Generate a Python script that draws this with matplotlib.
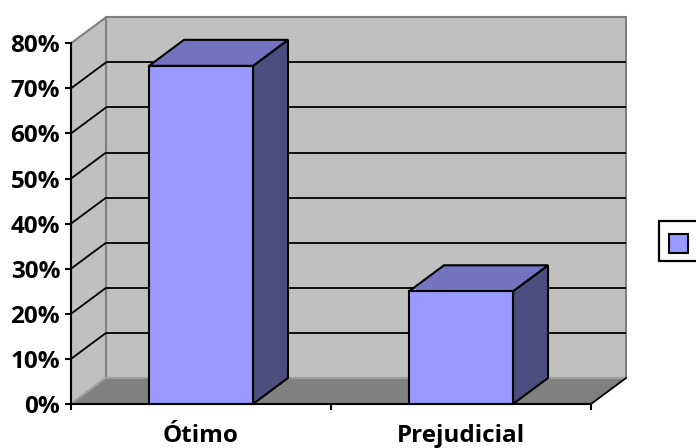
import matplotlib
matplotlib.use("Agg")
import matplotlib.pyplot as plt
import numpy as np
from matplotlib.patches import Polygon, Patch, Rectangle
from matplotlib.legend_handler import HandlerPatch

# Chart data
categories = ["Ótimo", "Prejudicial"]
values = [0.75, 0.25]
y_ticks = [0.0, 0.1, 0.2, 0.3, 0.4, 0.5, 0.6, 0.7, 0.8]
y_tick_labels = ["0%", "10%", "20%", "30%", "40%", "50%", "60%", "70%", "80%"]

# Styling
FONT = "Open Sans"
WALL = "#C0C0C0"
FLOOR = "#808080"
BAR_FRONT = "#9999FF"
BAR_TOP = "#7373BF"
BAR_SIDE = "#4D4D80"
BAR_WIDTH = 0.4
DEPTH_PX = np.array([35.0, 26.0])  # 3-D depth offset in pixels (right, up)

fig = plt.figure(figsize=(6.96, 4.48), dpi=100)
ax = fig.add_axes([71 / 696, 44 / 448, 520 / 696, 360.7 / 448])
ax.set_xlim(-0.5, len(categories) - 0.5)
ax.set_ylim(y_ticks[0], y_ticks[-1])
ax.patch.set_visible(False)


def shift(points):
    """Push data points back by the depth offset."""
    pts = np.atleast_2d(np.asarray(points, dtype=float))
    disp = ax.transData.transform(pts) + DEPTH_PX * fig.dpi / 100
    return ax.transData.inverted().transform(disp)


def poly(points, **kw):
    p = Polygon(np.asarray(points), closed=True, clip_on=False, **kw)
    ax.add_patch(p)
    return p


x0, x1 = ax.get_xlim()
y0, y1 = ax.get_ylim()

# Back wall
bw = np.array([(x0, y0), (x1, y0), (x1, y1), (x0, y1)])
poly(shift(bw), facecolor=WALL, edgecolor="#808080", lw=1.5, zorder=1)

# Left side wall
lw_front = np.array([(x0, y0), (x0, y1)])
poly(np.vstack([lw_front, shift(lw_front)[::-1]]),
     facecolor=WALL, edgecolor="#808080", lw=1.5, zorder=1)

# Floor
fl_front = np.array([(x0, y0), (x1, y0)])
fl_back = shift(fl_front)
poly(np.vstack([fl_front, fl_back[::-1]]),
     facecolor=FLOOR, edgecolor="none", zorder=1.2)
ax.plot(fl_back[:, 0], fl_back[:, 1], color="#A6A6A6", lw=1.2,
        clip_on=False, zorder=1.3)
left_diag = np.vstack([(x0, y0), shift((x0, y0))])
ax.plot(left_diag[:, 0], left_diag[:, 1], color="#A6A6A6", lw=1.0,
        clip_on=False, zorder=1.3)
right_diag = np.vstack([(x1, y0), shift((x1, y0))])
ax.plot(right_diag[:, 0], right_diag[:, 1], color="black", lw=1.3,
        clip_on=False, zorder=1.3)

# Gridlines on back wall and left wall
for yv in y_ticks[1:-1]:
    back = shift([(x0, yv), (x1, yv)])
    ax.plot(back[:, 0], back[:, 1], color="black", lw=1.3,
            clip_on=False, zorder=1.5, solid_capstyle="butt")
    diag = np.vstack([(x0, yv), shift((x0, yv))])
    ax.plot(diag[:, 0], diag[:, 1], color="black", lw=1.3,
            clip_on=False, zorder=1.5, solid_capstyle="butt")

# 3-D bars
for i, v in enumerate(values):
    l, r = i - BAR_WIDTH / 2, i + BAR_WIDTH / 2
    front = np.array([(l, 0), (r, 0), (r, v), (l, v)])
    top_front = np.array([(l, v), (r, v)])
    top = np.vstack([top_front, shift(top_front)[::-1]])
    side_front = np.array([(r, 0), (r, v)])
    side = np.vstack([side_front, shift(side_front)[::-1]])
    poly(side, facecolor=BAR_SIDE, edgecolor="black", lw=1.5, zorder=3,
         joinstyle="miter")
    poly(top, facecolor=BAR_TOP, edgecolor="black", lw=1.5, zorder=3,
         joinstyle="miter")
    poly(front, facecolor=BAR_FRONT, edgecolor="black", lw=1.5, zorder=3.1,
         joinstyle="miter")

# Axes lines and ticks
for side in ("top", "right"):
    ax.spines[side].set_visible(False)
for side in ("left", "bottom"):
    ax.spines[side].set_color("black")
    ax.spines[side].set_linewidth(1.5)
    ax.spines[side].set_zorder(4)

ax.set_yticks(y_ticks)
ax.set_yticklabels(y_tick_labels, fontfamily=FONT, fontweight="bold",
                   fontsize=17.5)
ax.tick_params(axis="y", direction="out", length=4.3, width=1.5, pad=3.5,
               color="black")

ax.set_xticks(range(len(categories)))
ax.set_xticklabels(categories, fontfamily=FONT, fontweight="bold",
                   fontsize=17.5)
ax.tick_params(axis="x", which="major", length=0, pad=14.2)
ax.set_xticks(np.arange(x0, x1 + 0.01, 1.0), minor=True)
ax.tick_params(axis="x", which="minor", direction="out", length=4.5,
               width=1.5, color="black")


# Legend key: a small square sitting at the bottom of its slot
def key_square(legend, orig_handle, xdescent, ydescent, width, height,
               fontsize):
    return Rectangle((-xdescent + 1.3, -ydescent), 14.2, 13.7)


leg = fig.legend(handles=[Patch(facecolor=BAR_FRONT, edgecolor="black",
                                linewidth=1.5)],
                 labels=[" "], loc="upper left",
                 bbox_to_anchor=(659 / 696, 1 - 221 / 448),
                 prop={"family": "Lato", "weight": "bold", "size": 14},
                 handler_map={Patch: HandlerPatch(patch_func=key_square)},
                 handlelength=1.1, handleheight=1.554, handletextpad=0.8,
                 borderpad=0.40, borderaxespad=0, fancybox=False,
                 frameon=True, framealpha=1)
leg.get_frame().set_edgecolor("black")
leg.get_frame().set_linewidth(1.6)

fig.savefig("out.png", dpi=100)
